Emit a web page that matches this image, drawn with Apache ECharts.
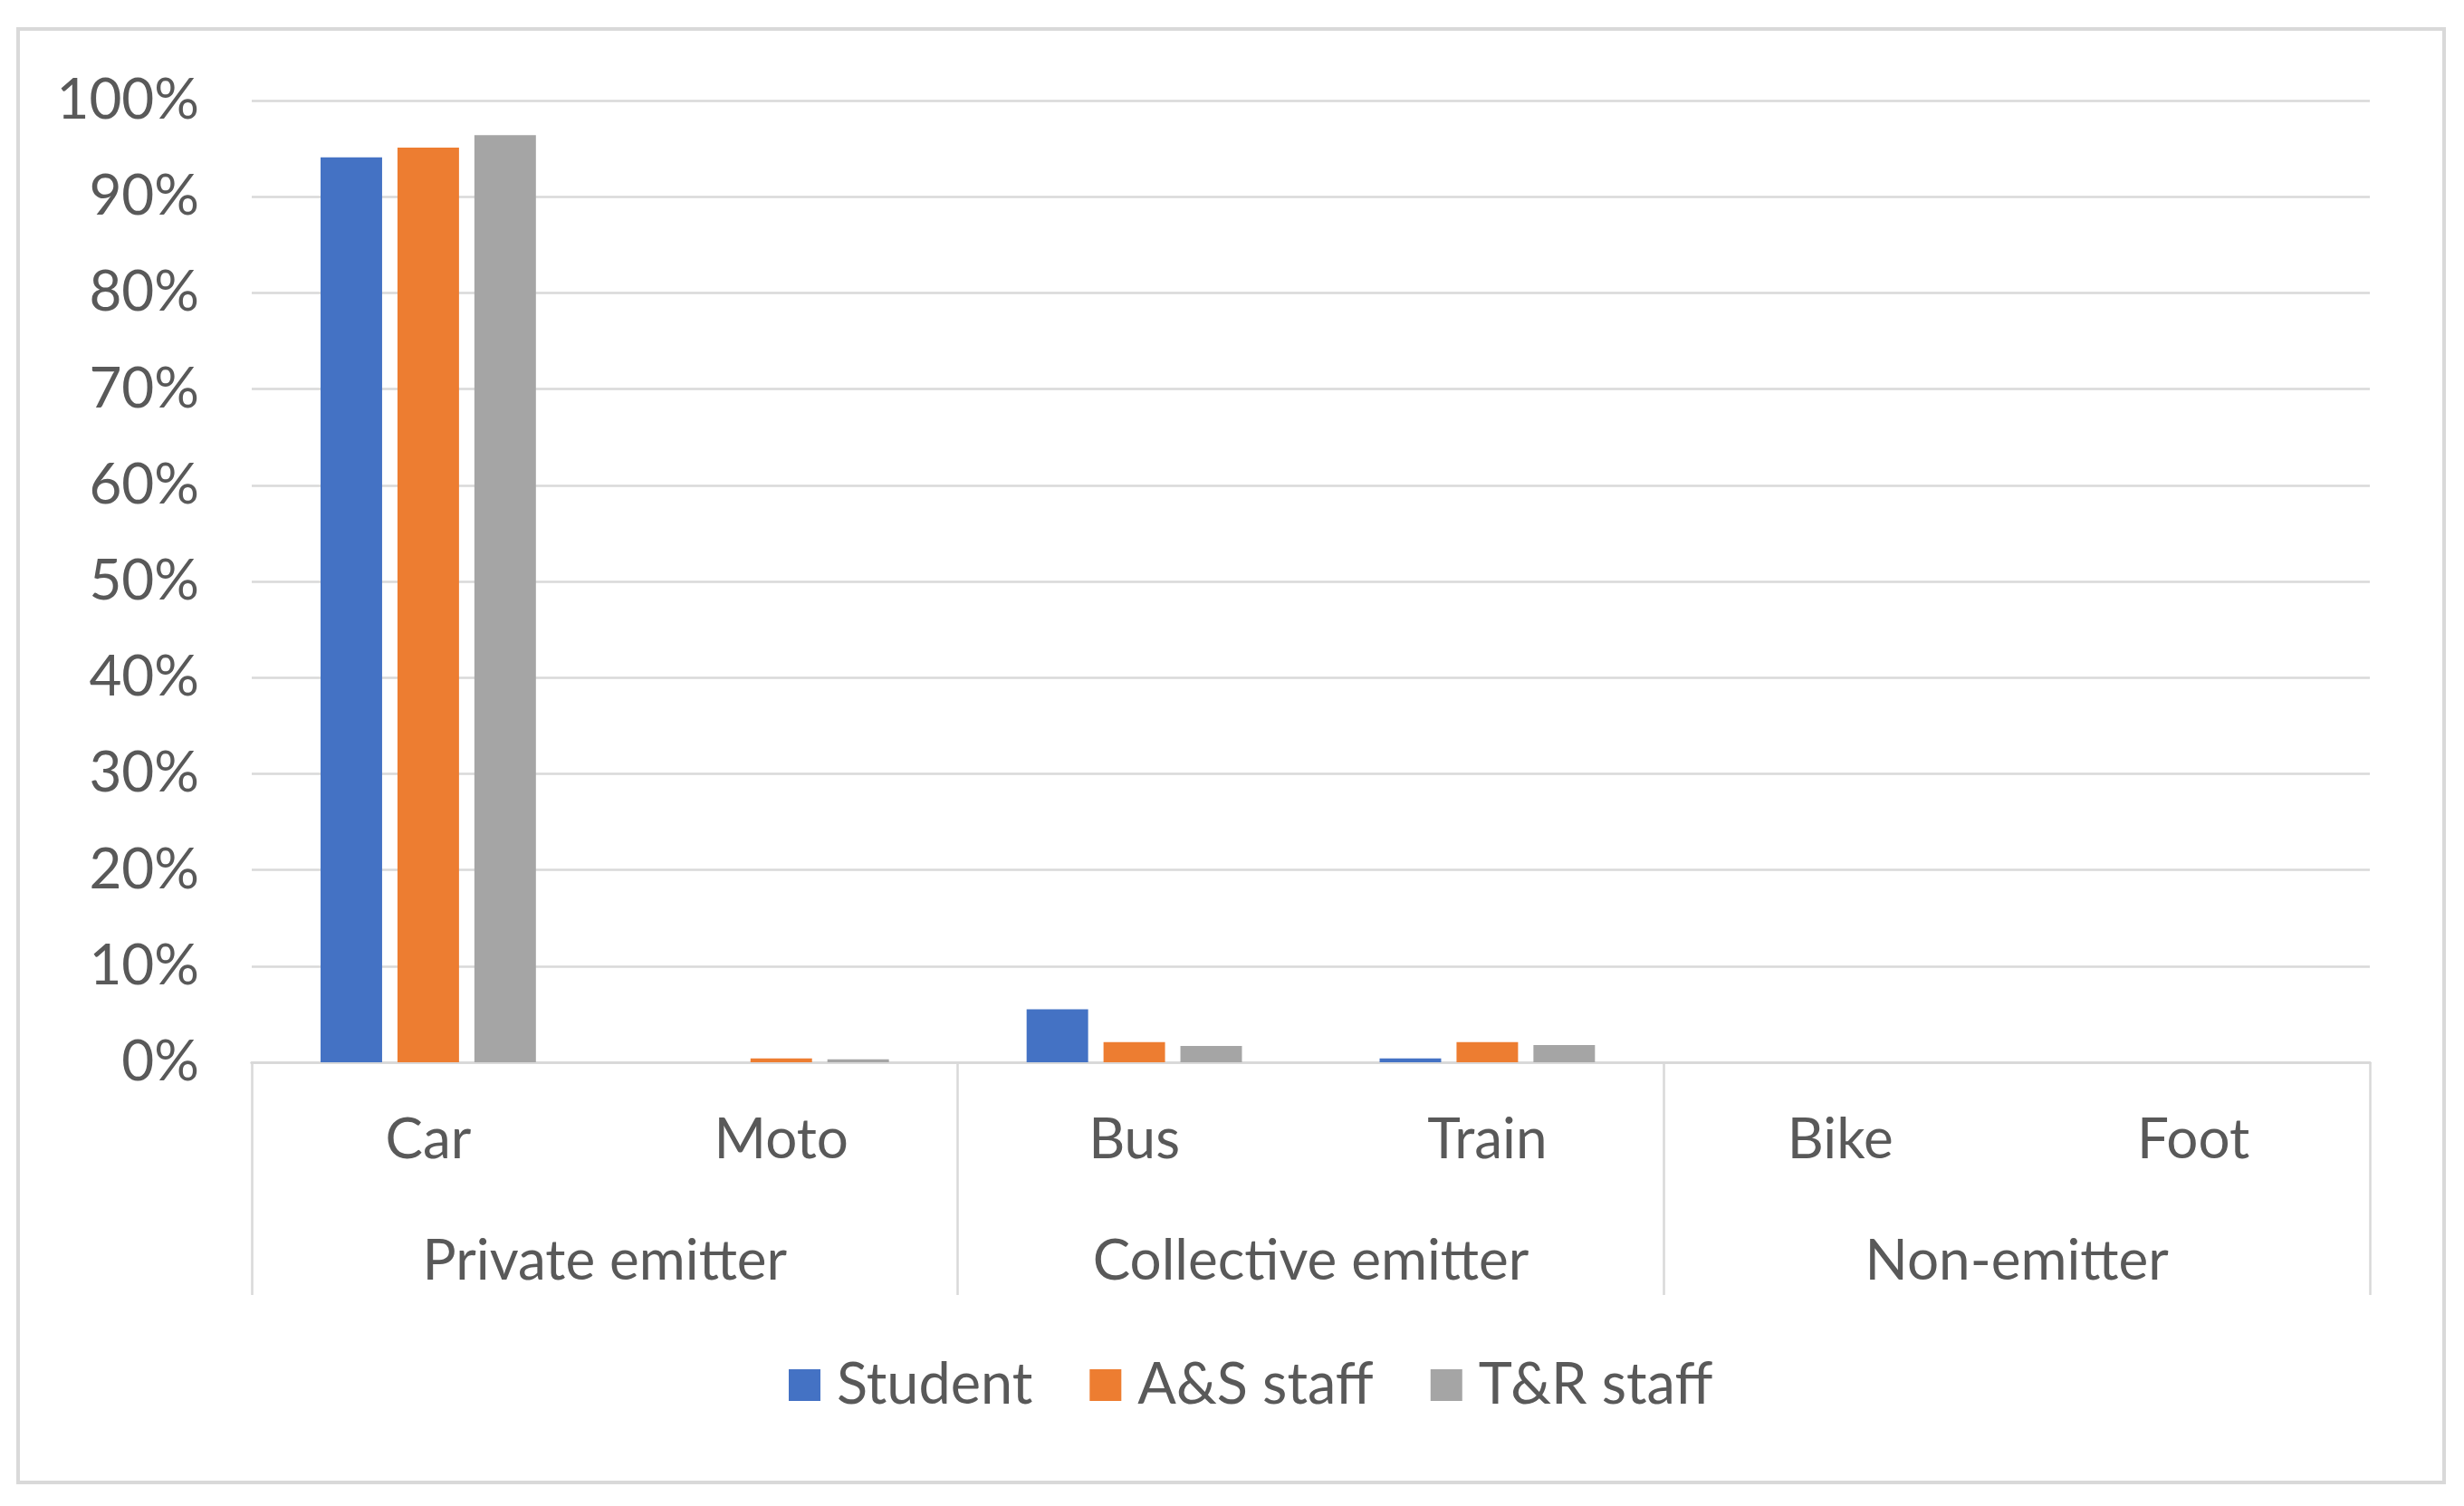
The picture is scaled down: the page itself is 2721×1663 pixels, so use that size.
<!DOCTYPE html>
<html>
<head>
<meta charset="utf-8">
<script src="https://cdn.jsdelivr.net/npm/echarts@6/dist/echarts.min.js"></script>
<style>
html,body{margin:0;padding:0;background:#fff;}
#chart{width:2721px;height:1663px;}
</style>
</head>
<body>
<div id="chart"></div>
<script>
const categories = ['Car', 'Moto', 'Bus', 'Train', 'Bike', 'Foot'];
const groups = ['Private emitter', 'Collective emitter', 'Non-emitter'];
const seriesNames = ['Student', 'A&S staff', 'T&R staff'];
const student = [94.1, 0, 5.5, 0.4, 0, 0];
const asStaff = [95.1, 0.4, 2.1, 2.1, 0, 0];
const trStaff = [96.4, 0.3, 1.7, 1.8, 0, 0];
const yTicks = [0, 10, 20, 30, 40, 50, 60, 70, 80, 90, 100];

const colors = ['#4472C4', '#ED7D31', '#A5A5A5'];
const textColor = '#595959';
const lineColor = '#D9D9D9';
const font = 'Lato';

const chart = echarts.init(document.getElementById('chart'));
chart.setOption({
  animation: false,
  color: colors,
  textStyle: {fontFamily: font},
  graphic: [{
    type: 'rect',
    shape: {x: 20, y: 32, width: 2679, height: 1605},
    style: {fill: 'none', stroke: lineColor, lineWidth: 4},
    silent: true
  }],
  grid: {left: 278, right: 104, top: 111, bottom: 490, containLabel: false},
  legend: {
    data: seriesNames,
    bottom: 97,
    left: 866,
    icon: 'rect',
    itemWidth: 35,
    itemHeight: 35,
    itemGap: 63,
    textStyle: {color: textColor, fontSize: 63, fontFamily: font, padding: [0, 0, 0, 13]}
  },
  xAxis: [{
    type: 'category',
    data: categories,
    position: 'bottom',
    axisLine: {show: true, lineStyle: {color: lineColor, width: 3}},
    axisTick: {show: false},
    axisLabel: {color: textColor, fontSize: 62, fontFamily: font, margin: 55, interval: 0}
  }, {
    type: 'category',
    data: groups,
    position: 'bottom',
    axisLine: {show: true, lineStyle: {color: lineColor, width: 3}},
    axisTick: {show: true, length: 257, interval: 0, lineStyle: {color: lineColor, width: 2.5}},
    axisLabel: {color: textColor, fontSize: 62, fontFamily: font, margin: 189, interval: 0}
  }],
  yAxis: {
    type: 'value',
    min: 0,
    max: 100,
    interval: 10,
    axisLine: {show: false},
    axisTick: {show: false},
    splitLine: {lineStyle: {color: lineColor, width: 2.5}},
    axisLabel: {color: textColor, fontSize: 62, fontFamily: font, margin: 58, formatter: '{value}%'}
  },
  series: [
    {name: seriesNames[0], type: 'bar', data: student, barGap: '25%', barCategoryGap: '39%'},
    {name: seriesNames[1], type: 'bar', data: asStaff, barGap: '25%', barCategoryGap: '39%'},
    {name: seriesNames[2], type: 'bar', data: trStaff, barGap: '25%', barCategoryGap: '39%'}
  ]
});
</script>
</body>
</html>
